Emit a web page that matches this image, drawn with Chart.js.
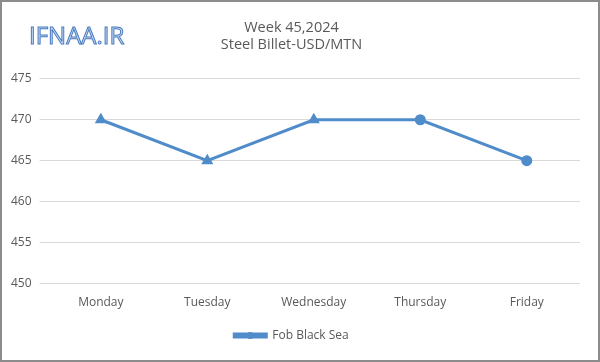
<!DOCTYPE html>
<html>
<head>
<meta charset="utf-8">
<script src="https://cdn.jsdelivr.net/npm/chart.js@4"></script>
<style>
html,body{margin:0;padding:0;background:#fff;}
#frame{position:relative;width:596px;height:358px;border:2px solid #8c8c8c;background:#fff;}
#logo{position:absolute;left:27px;top:16px;font-family:"Open Sans",sans-serif;font-size:24px;color:#c9dcf2;
-webkit-text-stroke:1px #4a7bc0;letter-spacing:0px;}
canvas{position:absolute;left:0;top:0;}
</style>
</head>
<body>
<div id="frame">
<canvas id="c" width="596" height="358"></canvas>
<div id="logo">IFNAA.IR</div>
</div>
<script>
const days=["Monday","Tuesday","Wednesday","Thursday","Friday"]
const prices=[470,465,470,470,465]
const markers=["triangle","triangle","triangle","circle","circle"]
const titleLines=["Week 45,2024","Steel Billet-USD/MTN"]
const seriesName="Fob Black Sea"

const blue="#4f8cc9"
const grey="#595959"

// circle on the legend line, like the Excel sample
const legendDot={
id:"legendDot",
afterDraw(chart){
const lg=chart.legend
if(!lg||!lg.legendHitBoxes.length)return
const b=lg.legendHitBoxes[0]
const ctx=chart.ctx
ctx.save()
ctx.fillStyle=blue
ctx.beginPath()
ctx.arc(b.left+16,b.top+b.height/2,3.5,0,Math.PI*2)
ctx.fill()
ctx.restore()
}
}

new Chart(document.getElementById("c"),{
type:"line",
data:{
labels:days,
datasets:[{
label:seriesName,
data:prices,
borderColor:blue,
backgroundColor:blue,
borderWidth:3,
pointStyle:markers,
pointRadius:4,
pointBackgroundColor:blue,
pointBorderColor:blue,
tension:0
}]
},
options:{
responsive:false,
animation:false,
layout:{padding:{left:1,right:18,top:6,bottom:8.5}},
plugins:{
title:{
display:true,
text:titleLines,
color:grey,
font:{family:"Open Sans",size:14.5,weight:"normal"},
padding:{top:11,bottom:25},
lineHeight:1.5
},
legend:{
position:"bottom",
labels:{
color:grey,
font:{family:"Open Sans",size:12},
boxWidth:32,
boxHeight:3,
padding:15.5
}
},
tooltip:{enabled:false}
},
scales:{
x:{
offset:true,
grid:{display:false},
border:{display:false},
ticks:{color:grey,font:{family:"Open Sans",size:12},padding:4}
},
y:{
min:450,
max:475,
ticks:{stepSize:5,color:grey,font:{family:"Open Sans",size:12},padding:8},
grid:{color:"#d9d9d9",lineWidth:1},
border:{display:false}
}
}
},
plugins:[legendDot]
})
</script>
</body>
</html>
